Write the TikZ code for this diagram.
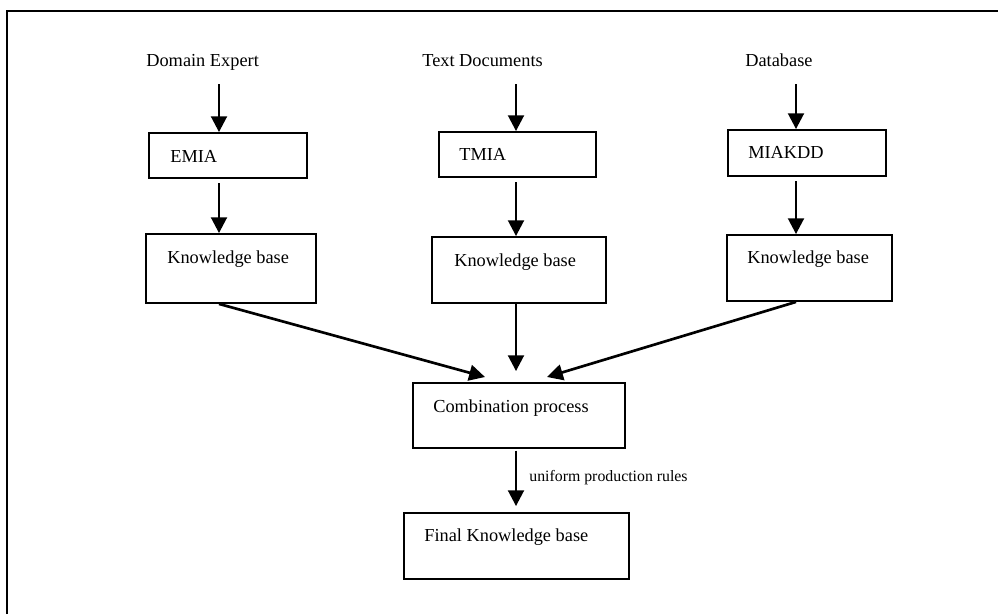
\documentclass[tikz,border=0pt]{standalone}
\usepackage{fontspec}
\setmainfont{Liberation Serif}
\usetikzlibrary{fit, arrows.meta}
\tikzset{
    normal/.style={draw, line width=1.1pt},
    box/.style={style=normal, inner sep=0}, % framed boxes, sized by fit
    txt/.style={anchor=base west, inner sep=0, font=\fontsize{11}{13}\selectfont},
    small/.style={style=txt, font=\fontsize{9.5}{11}\selectfont},
    e/.style={line width=1.6pt, -{Triangle[length=9.5pt, width=9.5pt]}},
    frame/.style={line width=1.4pt}
}

\begin{document}
\begin{tikzpicture}[x=0.6pt, y=-0.6pt]
        \useasboundingbox (0,0) rectangle (998,614);
        \draw[frame] (7,614) -- (7,11) -- (998,11);

        % sources
        \node[txt] (expert) at (146,66) {Domain Expert};
        \node[txt] (documents) at (422,66) {Text Documents};
        \node[txt] (database) at (745,66) {Database};

        % acquisition agents
        \node[box, fit={(149,133) (307,178)}] (emia) {};
        \node[txt] at (170,162) {EMIA};
        \node[box, fit={(439,132) (596,177)}] (tmia) {};
        \node[txt] at (459,160) {TMIA};
        \node[box, fit={(728,130) (886,176)}] (miakdd) {};
        \node[txt] at (748,158) {MIAKDD};

        % knowledge bases
        \node[box, fit={(146,234) (316,303)}] (kb1) {};
        \node[txt] at (167,263) {Knowledge base};
        \node[box, fit={(432,237) (606,303)}] (kb2) {};
        \node[txt] at (454,266) {Knowledge base};
        \node[box, fit={(727,235) (892,301)}] (kb3) {};
        \node[txt] at (747,263) {Knowledge base};

        \node[box, fit={(413,383) (625,448)}] (comb) {};
        \node[txt] at (433,412) {Combination process};
        \node[box, fit={(404,513) (629,579)}] (final) {};
        \node[txt] at (424,541) {Final Knowledge base};

        \coordinate (in1) at (219,84);
        \coordinate (in2) at (516,84);
        \coordinate (in3) at (796,84);
        \coordinate (t1) at (485,377);
        \coordinate (t3) at (547,377);

        \draw[e] (in1) -- (in1 |- emia.north);
        \draw[e] (in2) -- (in2 |- tmia.north);
        \draw[e] (in3) -- (in3 |- miakdd.north);
        \draw[e, shorten <=2.5pt] (emia.south -| in1) -- (kb1.north -| in1);
        \draw[e, shorten <=2.5pt] (tmia.south -| in2) -- (kb2.north -| in2);
        \draw[e, shorten <=2.5pt] (miakdd.south -| in3) -- (kb3.north -| in3);
        \draw[e] (kb1.south -| in1) -- (t1);
        \draw[e, shorten >=6.6pt] (kb2.south -| in2) -- (comb.north -| in2);
        \draw[e] (kb3.south -| in3) -- (t3);
        \draw[e, shorten <=1pt, shorten >=3.6pt] (comb.south -| in2) -- (final.north -| in2);
        \node[small] at (529,481) {uniform production rules};
\end{tikzpicture}
\end{document}
